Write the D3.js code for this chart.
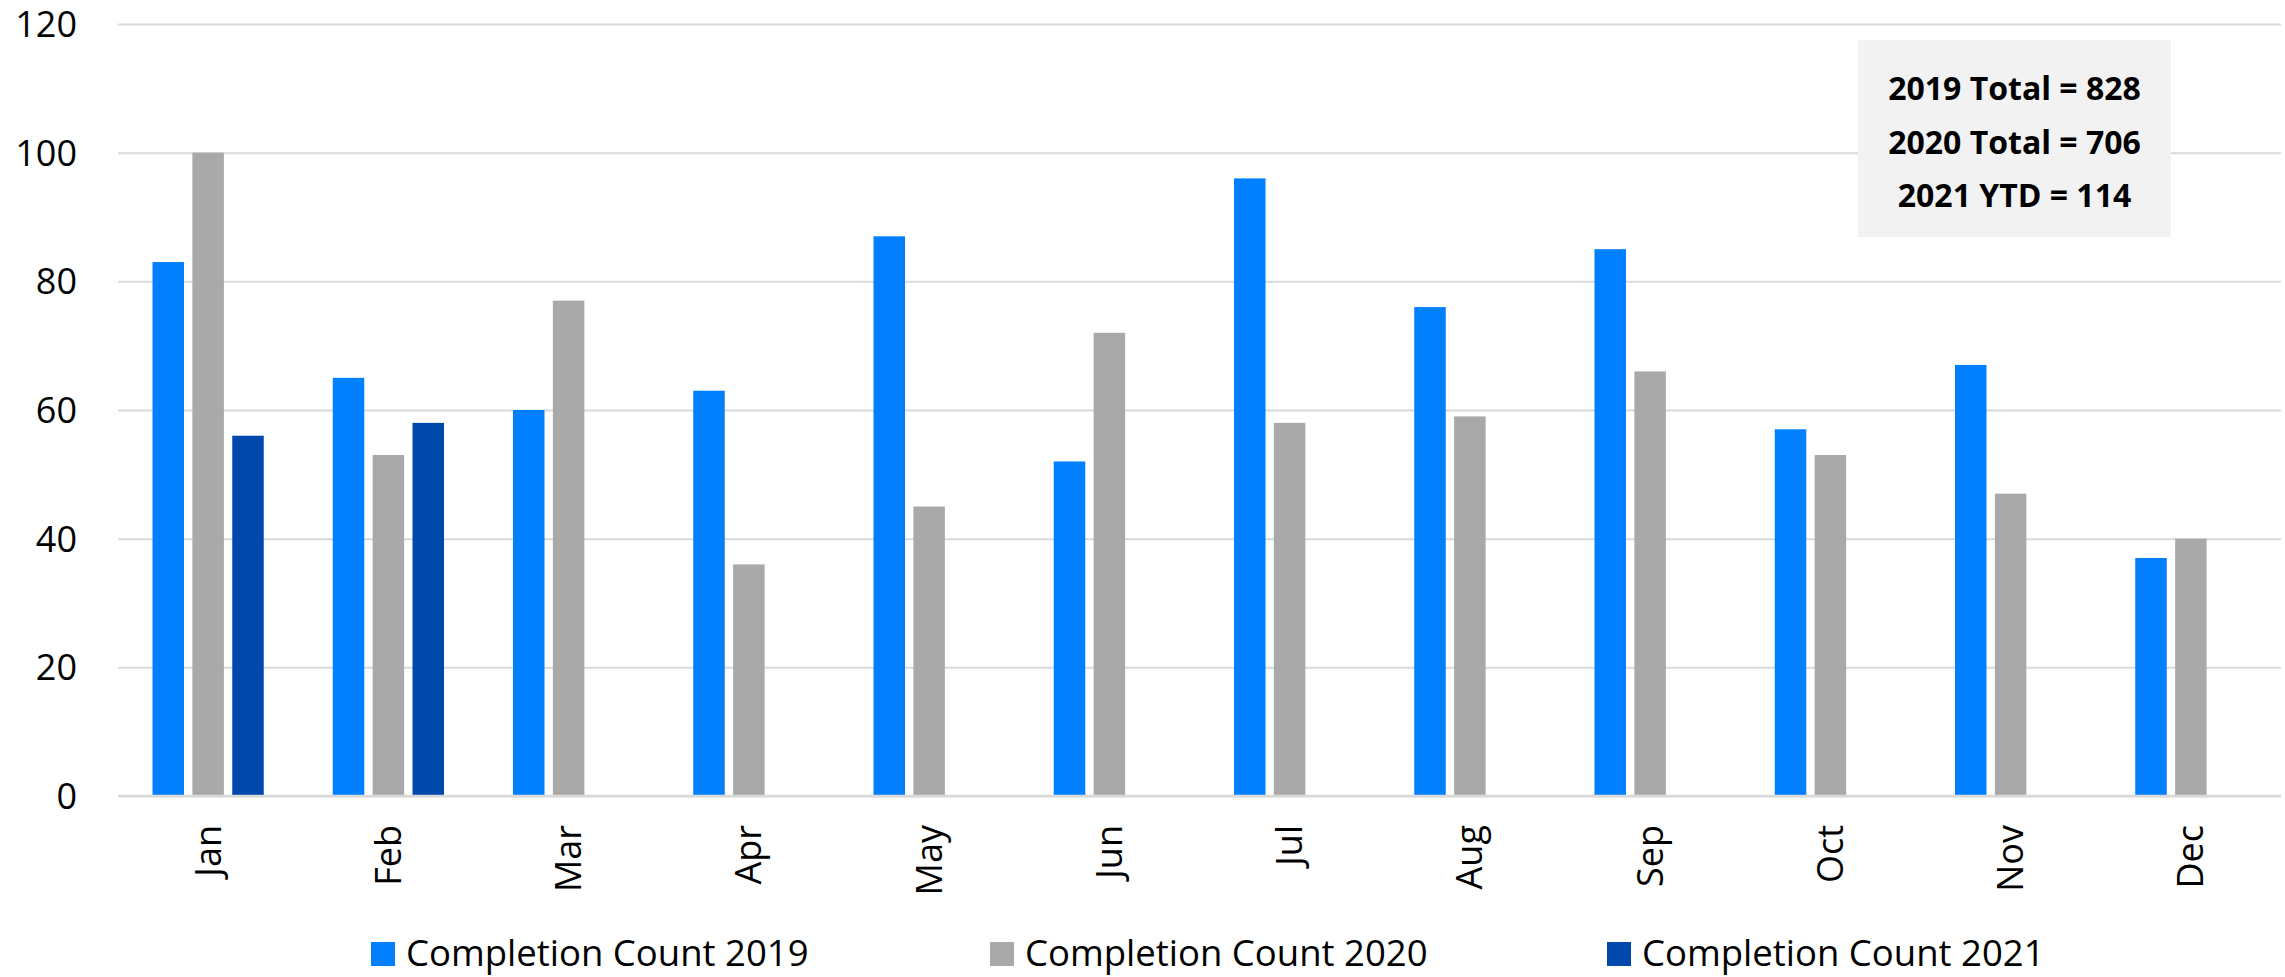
<!DOCTYPE html>
<html>
<head>
<meta charset="utf-8">
<script src="https://cdn.jsdelivr.net/npm/d3@7"></script>
<style>
  html, body { margin: 0; padding: 0; background: #ffffff; }
  svg { display: block; font-family: "Open Sans", "Liberation Sans", sans-serif; }
</style>
</head>
<body>
<svg id="chart" width="2285" height="977"></svg>
<script>
// Monthly completion counts
const months = ["Jan", "Feb", "Mar", "Apr", "May", "Jun", "Jul", "Aug", "Sep", "Oct", "Nov", "Dec"];
const seriesNames = ["Completion Count 2019", "Completion Count 2020", "Completion Count 2021"];
const counts2019 = [83, 65, 60, 63, 87, 52, 96, 76, 85, 57, 67, 37];
const counts2020 = [100, 53, 77, 36, 45, 72, 58, 59, 66, 53, 47, 40];
const counts2021 = [56, 58, null, null, null, null, null, null, null, null, null, null];
const yTicks = [0, 20, 40, 60, 80, 100, 120];
const totalLines = ["2019 Total = 828", "2020 Total = 706", "2021 YTD = 114"];

const seriesValues = [counts2019, counts2020, counts2021];
const colors = ["#0080FF", "#A9A9A9", "#0048AB"];

const svg = d3.select("#chart");
const plot = { left: 118, right: 2281, top: 24, bottom: 796 };

const x0 = d3.scaleBand().domain(months).range([plot.left, plot.right]).padding(0);
const x1 = d3.scaleBand().domain(seriesNames)
  .range([34.5, x0.bandwidth() - 34.5]).paddingInner(0.21).paddingOuter(0);
const y = d3.scaleLinear().domain([0, 120]).range([plot.bottom, plot.top]);
const color = d3.scaleOrdinal().domain(seriesNames).range(colors);

// Horizontal gridlines and value labels
const yAxis = d3.axisLeft(y).tickValues(yTicks).tickSize(-(plot.right - plot.left)).tickPadding(41);
const gy = svg.append("g").attr("transform", `translate(${plot.left},0)`).call(yAxis);
gy.select(".domain").remove();
gy.selectAll(".tick line").attr("stroke", "#d9d9d9").attr("stroke-width", 2);
gy.selectAll(".tick text")
  .attr("font-family", "'Open Sans', sans-serif")
  .attr("font-size", 36).attr("fill", "#000").attr("dy", "0.35em");

// Bars
const groups = svg.append("g").selectAll("g")
  .data(months)
  .join("g")
  .attr("transform", d => `translate(${x0(d)},0)`);

groups.selectAll("rect")
  .data((m, i) => seriesNames.map((s, k) => ({ s, v: seriesValues[k][i] })).filter(d => d.v != null))
  .join("rect")
  .attr("x", d => x1(d.s))
  .attr("width", x1.bandwidth())
  .attr("y", d => y(d.v))
  .attr("height", d => y(0) - y(d.v))
  .attr("fill", d => color(d.s));

// Baseline
svg.append("line")
  .attr("x1", plot.left).attr("x2", plot.right)
  .attr("y1", y(0)).attr("y2", y(0))
  .attr("stroke", "#d9d9d9").attr("stroke-width", 2.5);

// Month labels, rotated
const xAxis = d3.axisBottom(x0).tickSize(0).tickPadding(0);
const gx = svg.append("g").attr("transform", `translate(0,${y(0)})`).call(xAxis);
gx.select(".domain").remove();
gx.selectAll(".tick text")
  .attr("font-family", "'Open Sans', sans-serif")
  .attr("font-size", 36).attr("fill", "#000")
  .attr("text-anchor", "end")
  .attr("transform", "rotate(-90)")
  .attr("x", -29).attr("y", 0).attr("dy", "0.35em");

// Totals box
const box = { x: 1858, y: 40, w: 313, h: 197 };
svg.append("rect").attr("x", box.x).attr("y", box.y)
  .attr("width", box.w).attr("height", box.h).attr("fill", "#f2f2f2");
svg.append("g").selectAll("text")
  .data(totalLines)
  .join("text")
  .attr("x", box.x + box.w / 2)
  .attr("y", (d, i) => 100 + i * 53.5)
  .attr("text-anchor", "middle")
  .attr("font-family", "'Open Sans', sans-serif")
  .attr("font-weight", "bold")
  .attr("font-size", 32)
  .attr("fill", "#000")
  .text(d => d);

// Legend
const legendX = [371, 990, 1607];
const legend = svg.append("g").selectAll("g")
  .data(seriesNames)
  .join("g")
  .attr("transform", (d, i) => `translate(${legendX[i]},942)`);
legend.append("rect").attr("width", 24).attr("height", 24).attr("fill", d => color(d));
legend.append("text")
  .attr("x", 35).attr("y", 24)
  .attr("font-family", "'Open Sans', sans-serif")
  .attr("font-size", 36.5).attr("fill", "#000")
  .text(d => d);
</script>
</body>
</html>
